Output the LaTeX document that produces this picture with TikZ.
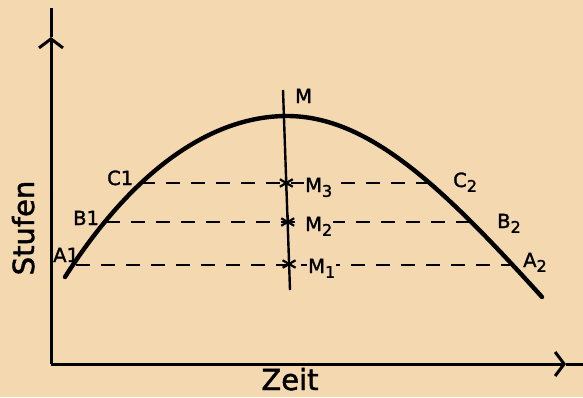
\documentclass[tikz,border=0pt]{standalone}
\usepackage{fontspec}
\setsansfont{DejaVu Sans}[FakeBold=1.6]
\usetikzlibrary{arrows.meta}
\definecolor{paper}{HTML}{F4D9B0}
\newcommand\lowidx[1]{\raisebox{-0.45ex}{\fontsize{16}{16}\selectfont #1}}

\begin{document}
\begin{tikzpicture}[
  x=1pt, y=-1pt,
  axis/.style={line width=3pt, draw=black},
  axtip/.style={-{Straight Barb[length=9pt, width=24pt]}},
  curve/.style={line width=4.4pt, line cap=round},
  level/.style={line width=1.8pt, dash pattern=on 14pt off 11pt},
  mline/.style={line width=2.4pt},
  lbl/.style={font=\sffamily\fontsize{19.5}{20}\selectfont, inner sep=1pt},
  mlbl/.style={lbl, fill=paper, anchor=base west},
  axlbl/.style={font=\sffamily\fontsize{29}{30}\selectfont, inner sep=0pt, anchor=base}
]
\fill[paper] (0,0) rectangle (583,397);
\useasboundingbox (0,0) rectangle (583,397);

% axes
\coordinate (origin) at (51,364);
\coordinate (ytip) at (51,37);
\coordinate (ytop) at (51,8);
\coordinate (xtip) at (566,364);
\coordinate (xend) at (583,364);
\draw[axis, axtip] (origin) -- (ytip);
\draw[axis] (ytip) -- (ytop);
\draw[axis, axtip] (origin) -- (xtip);
\draw[axis] (xtip) -- (xend);
\node[axlbl] (zeit) at (290,390) {Zeit};
\node[axlbl, rotate=90] (stufen) at (34,228) {Stufen};

% points on the curve
\coordinate (a1) at (76,265);
\coordinate (b1) at (106,222);
\coordinate (c1) at (141,183);
\coordinate (c2) at (431,183);
\coordinate (b2) at (474,222);
\coordinate (a2) at (510,265);

% levels
\draw[level] (a1) -- (a2);
\draw[level] (b1) -- (b2);
\draw[level] (c1) -- (c2);

% curve
\coordinate (start) at (65,277);
\coordinate (peak) at (287,116);
\coordinate (end) at (542,297);
\draw[curve] (start) .. controls (132,172) and (210,116) .. (peak)
  .. controls (370,116) and (445,190) .. (end);

% line M
\coordinate (mtop) at (283,90);
\coordinate (mbot) at (290,290);
\coordinate (m3) at (286.3,183);
\coordinate (m2) at (287.7,222);
\coordinate (m1) at (289.1,264);
\draw[mline] (mtop) -- (mbot);
\foreach \p in {m1,m2,m3}
  \foreach \a in {30,90,150}
    \draw[line width=2.2pt] (\p) +(\a:7.5) -- +(\a+180:7.5);

% labels
\node[lbl, anchor=base west] (lblM) at (294,103) {M};
\node[mlbl] (lblM3) at (304,192) {M\lowidx{3}};
\node[mlbl] (lblM2) at (304,231) {M\lowidx{2}};
\node[mlbl] (lblM1) at (307,273) {M\lowidx{1}};
\node[lbl, anchor=base west] (lblC1) at (106,185) {C1};
\node[lbl, anchor=base west] (lblB1) at (72,225) {B1};
\node[lbl, anchor=base west] (lblA1) at (52,262) {A1};
\node[lbl, anchor=base west] (lblC2) at (452,187) {C\lowidx{2}};
\node[lbl, anchor=base west] (lblB2) at (496,228) {B\lowidx{2}};
\node[lbl, anchor=base west] (lblA2) at (522,267) {A\lowidx{2}};
\end{tikzpicture}
\end{document}
